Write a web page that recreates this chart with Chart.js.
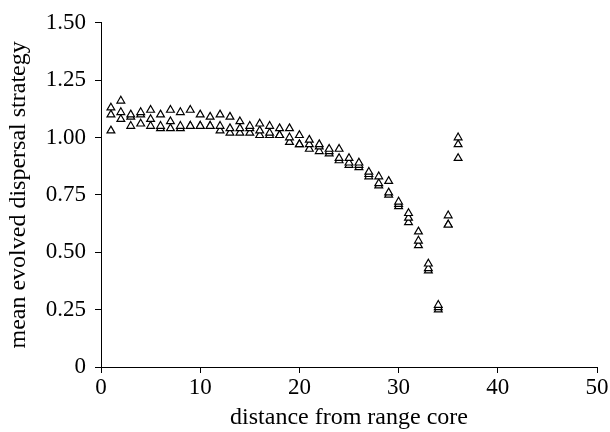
<!DOCTYPE html>
<html>
<head>
<meta charset="utf-8">
<script src="https://cdn.jsdelivr.net/npm/chart.js@4/dist/chart.umd.min.js"></script>
<style>
  html, body { margin: 0; padding: 0; background: #fff; }
  #wrap { width: 610px; height: 432px; position: relative; }
</style>
</head>
<body>
<div id="wrap"><canvas id="chart"></canvas></div>
<script>
// distance from range core (one entry per column of triangles)
const distances = [1, 2, 3, 4, 5, 6, 7, 8, 9, 10, 11, 12, 13, 14, 15, 16, 17, 18,
  19, 20, 21, 22, 23, 24, 25, 26, 27, 28, 29, 30, 31, 32, 33, 34, 35, 36];

// three replicate runs
const runA = [1.13, 1.16, 1.10, 1.11, 1.12, 1.10, 1.12, 1.11, 1.12, 1.10, 1.09, 1.10,
  1.09, 1.07, 1.05, 1.06, 1.05, 1.04, 1.04, 1.01, 0.99, 0.97, 0.95, 0.95, 0.91, 0.89,
  0.85, 0.83, 0.81, 0.72, 0.67, 0.59, 0.45, 0.27, 0.66, 1.00];
const runB = [1.10, 1.11, 1.09, 1.10, 1.08, 1.05, 1.07, 1.05, 1.05, 1.05, 1.05, 1.05,
  1.04, 1.04, 1.04, 1.03, 1.02, 1.01, 1.00, 0.97, 0.97, 0.96, 0.94, 0.91, 0.89, 0.88,
  0.84, 0.80, 0.76, 0.71, 0.65, 0.55, 0.43, 0.26, 0.62, 0.97];
const runC = [1.03, 1.08, 1.05, 1.06, 1.05, 1.04, 1.04, 1.04, 1.05, 1.05, 1.05, 1.03,
  1.02, 1.02, 1.02, 1.01, 1.01, 1.01, 0.98, 0.97, 0.95, 0.94, 0.93, 0.90, 0.88, 0.87,
  0.83, 0.79, 0.75, 0.70, 0.63, 0.53, 0.42, 0.25, 0.62, 0.91];

const yTicks = [0, 0.25, 0.5, 0.75, 1.0, 1.25, 1.5];

const SERIF = "'Liberation Serif', 'Times New Roman', serif";
const TICK_FONT = { family: SERIF, size: 23 };
const TITLE_FONT = { family: SERIF, size: 24 };
const INK = '#000';

function points(vals) {
  return distances.map((d, i) => ({ x: d, y: vals[i] }));
}

const marker = {
  pointStyle: 'triangle',
  pointRadius: 4.5,
  pointBorderWidth: 1.2,
  pointBorderColor: INK,
  pointBackgroundColor: '#fff',
  showLine: false,
};

new Chart(document.getElementById('chart'), {
  type: 'scatter',
  data: {
    datasets: [
      { data: points(runA), ...marker },
      { data: points(runB), ...marker },
      { data: points(runC), ...marker },
    ],
  },
  options: {
    responsive: true,
    maintainAspectRatio: false,
    animation: false,
    layout: { padding: { top: 20, right: 13, left: 0, bottom: 0 } },
    plugins: { legend: { display: false }, tooltip: { enabled: false } },
    scales: {
      x: {
        type: 'linear',
        min: 0,
        max: 50,
        ticks: { stepSize: 10, color: INK, font: TICK_FONT, padding: 1, maxRotation: 0 },
        grid: { drawOnChartArea: false, drawTicks: true, tickLength: 6, color: INK },
        border: { color: INK, width: 1 },
        title: { display: true, text: 'distance from range core', color: INK, font: TITLE_FONT, padding: { top: 0, bottom: 0 } },
        afterFit: s => { s.height = 65; },
      },
      y: {
        type: 'linear',
        min: 0,
        max: 1.5,
        afterBuildTicks: s => { s.ticks = yTicks.map(v => ({ value: v })); },
        ticks: {
          color: INK, font: TICK_FONT, padding: 9,
          callback: v => v === 0 ? '0' : v.toFixed(2),
        },
        grid: { drawOnChartArea: false, drawTicks: true, tickLength: 6, color: INK },
        border: { color: INK, width: 1 },
        title: { display: true, text: 'mean evolved dispersal strategy', color: INK, font: TITLE_FONT, padding: { top: 4, bottom: 0 } },
        afterFit: s => { s.width = 101; },
      },
    },
  },
});
</script>
</body>
</html>
